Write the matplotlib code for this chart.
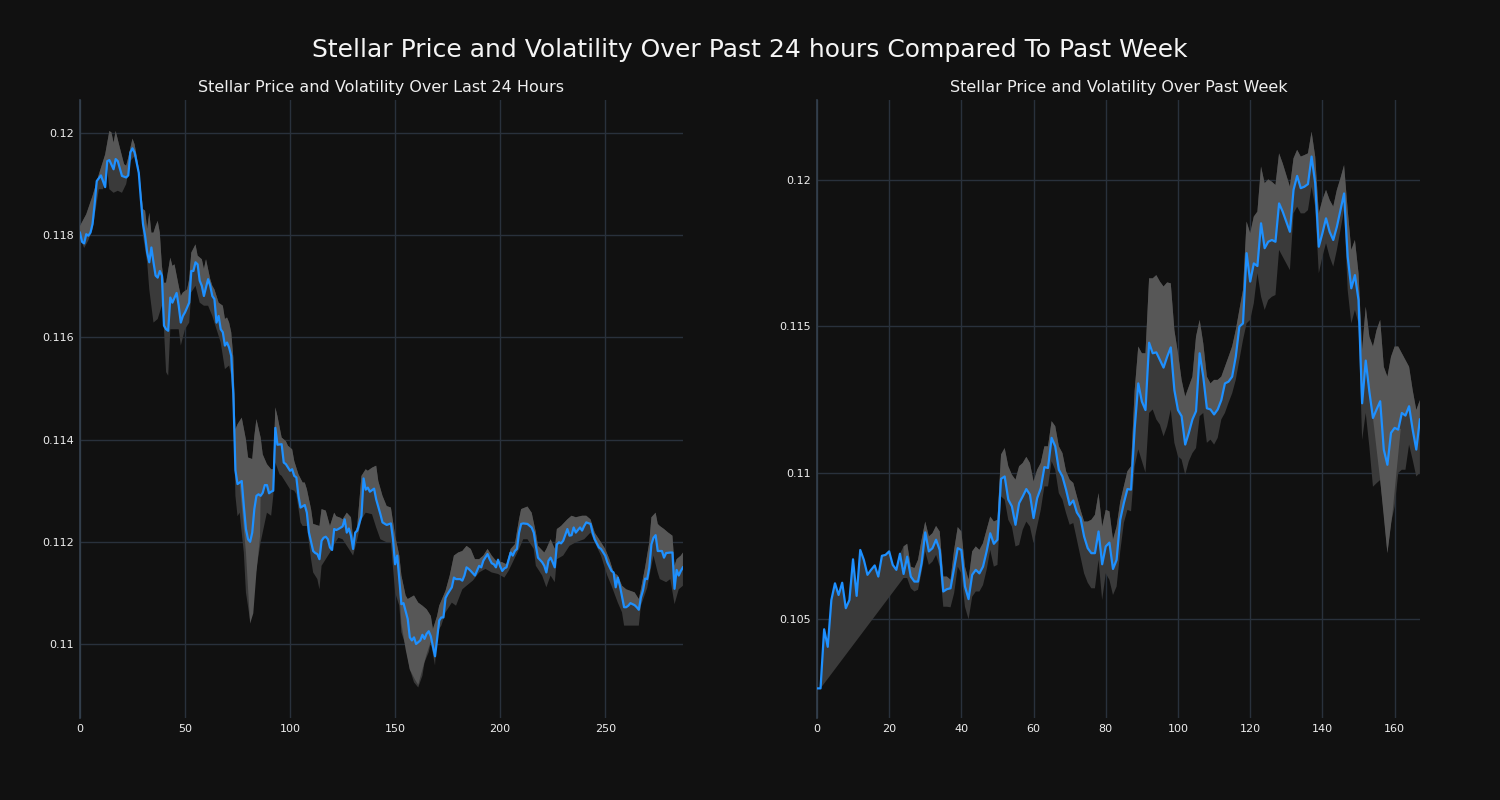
import numpy as np
import matplotlib
matplotlib.use("Agg")
import matplotlib.pyplot as plt
from matplotlib.ticker import FuncFormatter

# ---------------- data: last 24 hours (5-minute steps) ----------------
left_price_x = [0,1,2,3,4,5,6,7,8,10,12,13,14,16,17,18,20,22,23,24,25,26,27,28,29,30,31,32,33,34,35,36,37,38,39,40,41,42,43,44,46,47,48,49,50,52,53,54,55,56,57,58,59,60,61,62,63,64,65,66,67,68,69,70,71,72,73,74,75,76,77,78,79,80,81,82,83,84,85,86,87,88,89,90,91,92,93,94,96,97,98,100,101,102,103,104,105,107,108,109,111,112,113,114,115,116,117,118,119,120,121,122,123,125,126,127,128,129,130,131,132,134,135,136,137,138,140,141,143,144,146,148,149,150,151,152,153,154,156,157,158,159,160,162,163,164,165,166,167,169,170,171,172,173,174,175,177,178,179,181,182,183,184,185,186,188,190,191,192,194,195,196,197,198,199,200,201,202,203,205,206,207,208,209,210,211,213,215,216,217,218,220,221,222,223,224,225,226,227,228,229,230,232,233,234,235,236,238,239,240,241,243,244,245,247,248,250,251,253,254,255,256,257,259,260,261,262,264,265,266,267,268,269,270,271,272,273,274,275,276,277,278,279,281,282,283,284,285,286,287]
left_price_y = [.11805,.11787,.11784,.11802,.11799,.11805,.11822,.11861,.11906,.11917,.11894,.11945,.11947,.11929,.11949,.11945,.11916,.11913,.11917,.11962,.11970,.11962,.11942,.11922,.11870,.11822,.11799,.11766,.11747,.11776,.11747,.11721,.11717,.11730,.11721,.11623,.11616,.11613,.11678,.11668,.11687,.11662,.11629,.11642,.11649,.11668,.11730,.11730,.11747,.11743,.11711,.11701,.11681,.11698,.11714,.11701,.11681,.11675,.11629,.11642,.11616,.11610,.11584,.11590,.11580,.11564,.11490,.11340,.11313,.11316,.11319,.11270,.11225,.11205,.11200,.11218,.11264,.11290,.11293,.11290,.11296,.11311,.11311,.11295,.11298,.11300,.11423,.11390,.11391,.11355,.11352,.11339,.11342,.11329,.11326,.11290,.11267,.11272,.11257,.11218,.11182,.11178,.11176,.11166,.11202,.11208,.11210,.11205,.11189,.11184,.11225,.11223,.11225,.11230,.11244,.11218,.11226,.11212,.11186,.11218,.11222,.11251,.11324,.11302,.11306,.11298,.11304,.11283,.11254,.11238,.11233,.11236,.11205,.11156,.11173,.11127,.11078,.11080,.11049,.11013,.11007,.11013,.11000,.11007,.11018,.11010,.11020,.11025,.11015,.10976,.11010,.11046,.11052,.11052,.11090,.11098,.11111,.11130,.11127,.11127,.11124,.11134,.11150,.11147,.11143,.11134,.11153,.11150,.11163,.11176,.11166,.11158,.11156,.11150,.11165,.11152,.11143,.11148,.11150,.11179,.11173,.11182,.11186,.11218,.11235,.11236,.11235,.11228,.11218,.11192,.11169,.11160,.11153,.11140,.11163,.11169,.11160,.11150,.11195,.11199,.11197,.11202,.11225,.11212,.11213,.11228,.11218,.11228,.11222,.11231,.11238,.11235,.11218,.11205,.11189,.11186,.11173,.11160,.11143,.11140,.11111,.11130,.11114,.11072,.11072,.11075,.11080,.11076,.11072,.11067,.11091,.11105,.11128,.11127,.11150,.11195,.11208,.11213,.11182,.11182,.11182,.11169,.11178,.11179,.11179,.11108,.11145,.11134,.11143,.11150]

left_upper_x = [0,3,6,9,12,14,15,16,17,19,21,22,23,25,26,27,28,30,31,32,33,34,35,36,37,38,39,40,41,43,44,45,47,48,49,51,52,53,55,56,58,59,60,62,63,64,66,68,69,70,71,72,73,74,75,77,79,80,82,83,84,86,87,89,91,92,93,94,96,98,99,101,102,104,106,107,108,110,111,114,115,117,119,121,122,124,125,127,129,130,132,134,136,137,139,141,142,144,146,148,150,152,153,155,156,159,161,163,165,167,168,170,171,174,176,178,180,182,184,186,188,190,192,194,196,198,201,203,205,207,209,210,213,215,217,218,221,222,224,226,227,229,232,234,236,239,241,243,245,248,250,252,254,256,258,260,264,266,267,269,271,272,274,275,276,278,280,282,283,284,286,287]
left_upper_y = [.11818,.11841,.11877,.11919,.11958,.12004,.12001,.11981,.12004,.11971,.11939,.11936,.11952,.11989,.11978,.11955,.11929,.11851,.11848,.11812,.11844,.11805,.11805,.11818,.11828,.11805,.11740,.11707,.11707,.11756,.11740,.11743,.11701,.11681,.11688,.11694,.11714,.11766,.11782,.11760,.11753,.11734,.11753,.11714,.11701,.11694,.11668,.11662,.11636,.11639,.11629,.11610,.11560,.11420,.11430,.11443,.11400,.11365,.11362,.11407,.11440,.11404,.11371,.11352,.11342,.11342,.11463,.11446,.11404,.11397,.11388,.11381,.11358,.11332,.11316,.11316,.11303,.11264,.11235,.11231,.11264,.11261,.11231,.11257,.11250,.11247,.11244,.11257,.11248,.11205,.11231,.11329,.11342,.11339,.11345,.11349,.11319,.11290,.11270,.11267,.11212,.11173,.11134,.11095,.11088,.11095,.11081,.11075,.11068,.11055,.11029,.11055,.11075,.11104,.11134,.11173,.11179,.11182,.11192,.11186,.11166,.11166,.11173,.11186,.11173,.11163,.11160,.11156,.11186,.11195,.11244,.11264,.11269,.11257,.11218,.11192,.11179,.11186,.11205,.11186,.11225,.11231,.11244,.11251,.11248,.11251,.11251,.11244,.11218,.11199,.11186,.11166,.11140,.11134,.11114,.11107,.11101,.11088,.11107,.11150,.11199,.11248,.11257,.11235,.11231,.11225,.11218,.11212,.11153,.11166,.11173,.11179]

left_lower_x = [0,2,4,6,9,11,13,14,16,18,20,22,24,26,28,30,32,33,35,37,39,40,41,42,43,45,47,48,50,52,53,55,57,59,61,63,65,67,69,71,72,73,74,75,76,78,79,81,82,84,86,88,89,91,92,93,95,96,98,100,102,103,105,106,108,110,111,113,114,115,117,119,121,123,125,128,130,132,134,136,139,141,143,146,148,150,152,153,155,157,159,161,163,164,166,167,169,170,172,174,177,179,182,184,187,190,193,196,199,202,204,206,209,211,213,216,217,220,222,224,226,227,230,233,236,240,243,245,248,251,253,256,258,259,262,264,266,267,270,272,273,275,276,279,281,283,285,287]
left_lower_y = [.11795,.11775,.11790,.11812,.11890,.11890,.11929,.11890,.11883,.11887,.11883,.11900,.11945,.11955,.11916,.11799,.11747,.11694,.11629,.11636,.11662,.11616,.11532,.11525,.11616,.11616,.11616,.11584,.11616,.11629,.11688,.11701,.11668,.11662,.11662,.11642,.11616,.11590,.11538,.11545,.11525,.11450,.11290,.11250,.11257,.11179,.11101,.11046,.11088,.11147,.11199,.11238,.11257,.11251,.11290,.11355,.11332,.11329,.11316,.11303,.11300,.11293,.11238,.11231,.11231,.11166,.11140,.11127,.11107,.11153,.11166,.11179,.11195,.11208,.11205,.11186,.11173,.11205,.11244,.11257,.11254,.11228,.11205,.11199,.11199,.11101,.11075,.11023,.10997,.10951,.10925,.10915,.10938,.10964,.10984,.11003,.10958,.11023,.11036,.11062,.11081,.11075,.11107,.11114,.11124,.11140,.11147,.11140,.11137,.11130,.11143,.11160,.11186,.11205,.11205,.11186,.11153,.11134,.11111,.11134,.11121,.11166,.11173,.11192,.11199,.11205,.11218,.11199,.11173,.11134,.11114,.11081,.11062,.11036,.11036,.11036,.11036,.11075,.11110,.11153,.11173,.11140,.11127,.11121,.11127,.11078,.11107,.11114]

# where the lighter band reaches below the price line
left_dip1_x = [76, 79, 81, 82.5, 84, 85.7, 86]
left_dip1_y = [.11316, .11180, .11040, .11060, .11140, .11210, .11290]
left_dip2_x = [151, 153, 155, 157, 159.5, 161, 163, 165, 167, 168]
left_dip2_y = [.11173, .11040, .10990, .10950, .10930, .10920, .10950, .10980, .11005, .11012]

left_yticks = [0.110, 0.112, 0.114, 0.116, 0.118, 0.120]
left_xticks = [0, 50, 100, 150, 200, 250]

# ---------------- data: past week (hourly) ----------------
right_price_x = list(range(168))
right_price_y = [.10263,.10263,.10465,.10405,.10565,.10622,.10582,.10624,.10537,.10565,
                 .10704,.10579,.10736,.10702,.10651,.10668,.10683,.10645,.10716,.10719,
                 .10731,.10685,.10668,.10723,.10654,.10713,.10645,.10628,.10628,.10691,
                 .10796,.10731,.10742,.10771,.10736,.10594,.10602,.10605,.10674,.10742,
                 .10736,.10611,.10568,.10651,.10668,.10656,.10679,.10731,.10793,.10757,
                 .10771,.10979,.10987,.10908,.10885,.10822,.10896,.10919,.10944,.10925,
                 .10845,.10913,.10947,.11019,.11016,.11119,.11090,.11010,.10987,.10942,
                 .10890,.10905,.10864,.10845,.10782,.10742,.10725,.10725,.10799,.10687,
                 .10748,.10761,.10671,.10702,.10839,.10896,.10944,.10942,.11150,.11305,
                 .11243,.11214,.11444,.11408,.11411,.11385,.11359,.11396,.11428,.11282,
                 .11214,.11193,.11096,.11136,.11182,.11210,.11408,.11328,.11220,.11216,
                 .11199,.11216,.11248,.11305,.11311,.11328,.11396,.11499,.11510,.11750,
                 .11653,.11715,.11706,.11852,.11767,.11789,.11795,.11789,.11920,.11892,
                 .11858,.11823,.11966,.12014,.11972,.11977,.11986,.12080,.11989,.11772,
                 .11818,.11869,.11823,.11795,.11840,.11897,.11954,.11738,.11630,.11675,
                 .11590,.11237,.11383,.11277,.11187,.11216,.11244,.11079,.11027,.11136,
                 .11153,.11147,.11204,.11195,.11227,.11147,.11079,.11182]

right_upper_x = list(range(24, 168))
right_upper_y = [.10748,.10757,.10679,.10674,.10702,.10771,.10833,.10782,.10793,.10818,
                 .10799,.10645,.10645,.10634,.10736,.10814,.10799,.10679,.10634,.10731,
                 .10748,.10736,.10759,.10805,.10850,.10833,.10839,.11062,.11084,.11022,
                 .10993,.10976,.11022,.11033,.11054,.11033,.10970,.11010,.11033,.11090,
                 .11090,.11176,.11159,.11090,.11067,.11005,.10976,.10965,.10919,.10873,
                 .10833,.10833,.10839,.10856,.10930,.10816,.10873,.10868,.10771,.10816,
                 .10900,.10953,.11005,.11022,.11280,.11431,.11408,.11408,.11664,.11664,
                 .11675,.11653,.11636,.11650,.11647,.11487,.11408,.11317,.11260,.11294,
                 .11328,.11465,.11522,.11442,.11328,.11305,.11317,.11317,.11328,.11362,
                 .11396,.11431,.11487,.11556,.11624,.11858,.11818,.11875,.11892,.12046,
                 .11989,.12002,.11994,.11983,.12091,.12057,.12017,.11977,.12074,.12103,
                 .12080,.12085,.12091,.12165,.12080,.11886,.11932,.11966,.11932,.11909,
                 .11966,.12006,.12051,.11897,.11761,.11795,.11681,.11419,.11567,.11465,
                 .11431,.11487,.11522,.11362,.11328,.11396,.11431,.11431,.11408,.11385,
                 .11362,.11282,.11214,.11248]

right_lower_x = [0, 1] + list(range(24, 168))
right_lower_y = [.10263, .10263,
                 .10640,.10640,.10605,.10594,.10600,.10660,.10731,.10685,.10696,.10719,
                 .10679,.10542,.10542,.10540,.10588,.10679,.10656,.10542,.10499,.10576,
                 .10594,.10594,.10616,.10668,.10736,.10679,.10685,.10919,.10908,.10839,
                 .10816,.10748,.10753,.10805,.10833,.10816,.10759,.10816,.10873,.10953,
                 .10953,.11039,.11010,.10930,.10908,.10862,.10822,.10828,.10771,.10713,
                 .10656,.10624,.10605,.10605,.10702,.10565,.10656,.10634,.10582,.10611,
                 .10730,.10828,.10873,.10868,.11022,.11080,.11040,.11000,.11204,.11216,
                 .11182,.11164,.11124,.11159,.11216,.11102,.11056,.11045,.10993,.11039,
                 .11067,.11084,.11193,.11204,.11102,.11113,.11096,.11119,.11182,.11204,
                 .11239,.11271,.11317,.11385,.11453,.11510,.11522,.11579,.11682,.11602,
                 .11556,.11590,.11601,.11607,.11761,.11738,.11715,.11692,.11886,.11909,
                 .11886,.11886,.11897,.11977,.11909,.11681,.11738,.11784,.11738,.11704,
                 .11761,.11829,.11897,.11624,.11510,.11556,.11510,.11112,.11204,.11089,
                 .10952,.10964,.10975,.10862,.10726,.10828,.10884,.10999,.11010,.11010,
                 .11096,.11044,.10987,.11000]

right_dip_x = [154, 156, 158, 159.4, 160.3, 161.7]
right_dip_y = [.11187, .10975, .10725, .10861, .10975, .11150]

right_yticks = [0.105, 0.110, 0.115, 0.120]
right_xticks = [0, 20, 40, 60, 80, 100, 120, 140, 160]

left_title = "Stellar Price and Volatility Over Last 24 Hours"
right_title = "Stellar Price and Volatility Over Past Week"
suptitle = "Stellar Price and Volatility Over Past 24 hours Compared To Past Week"

# ---------------- style ----------------
BG = "#111111"
GRID = "#29313c"
SPINE = "#34414f"
LINE = "#1e90ff"
DARK = "#3a3a3a"
LIGHT = "#575757"
TXT = "#eeeeee"


def draw(ax, px, py, ux, uy, lx, ly, dips, title, xlim, ylim, xticks, yticks):
    px, py = np.asarray(px, float), np.asarray(py, float)
    ux, uy = np.asarray(ux, float), np.asarray(uy, float)
    lx, ly = np.asarray(lx, float), np.asarray(ly, float)
    pre = px < ux[0]
    bx = np.r_[px[pre], ux]
    by = np.r_[py[pre], uy]
    ax.fill(np.r_[bx, lx[::-1]], np.r_[by, ly[::-1]], color=DARK, lw=0, zorder=2)
    ax.fill(np.r_[px[~pre], ux[::-1]], np.r_[py[~pre], uy[::-1]], color=LIGHT, lw=0, zorder=3)
    for dx, dy in dips:
        dx, dy = np.asarray(dx, float), np.asarray(dy, float)
        m = (px >= dx[0]) & (px <= dx[-1])
        ax.fill(np.r_[px[m], dx[::-1]], np.r_[py[m], dy[::-1]], color=LIGHT, lw=0, zorder=3)
    ax.plot(px, py, color=LINE, lw=1.6, zorder=4)
    ax.set_facecolor(BG)
    ax.set_xlim(*xlim)
    ax.set_ylim(*ylim)
    ax.set_xticks(xticks)
    ax.set_yticks(yticks)
    ax.yaxis.set_major_formatter(FuncFormatter(lambda v, p: f"{v:g}"))
    ax.grid(True, color=GRID, lw=1.0, zorder=0)
    ax.set_axisbelow(True)
    for s in ["top", "right", "bottom"]:
        ax.spines[s].set_visible(False)
    ax.spines["left"].set_color(SPINE)
    ax.spines["left"].set_linewidth(1.2)
    ax.tick_params(colors=TXT, labelsize=8, length=0, pad=4.5)
    ax.set_title(title, color=TXT, fontsize=11.5, pad=6)


fig = plt.figure(figsize=(15, 8), dpi=100, facecolor=BG)
axl = fig.add_subplot(1, 2, 1)
axr = fig.add_subplot(1, 2, 2)
fig.subplots_adjust(left=0.0533, right=0.9466, bottom=0.1025, top=0.875, wspace=0.2222)

draw(axl, left_price_x, left_price_y, left_upper_x, left_upper_y,
     left_lower_x, left_lower_y, [(left_dip1_x, left_dip1_y), (left_dip2_x, left_dip2_y)],
     left_title, (0, 287), (0.108552, 0.120646), left_xticks, left_yticks)
draw(axr, right_price_x, right_price_y, right_upper_x, right_upper_y,
     right_lower_x, right_lower_y, [(right_dip_x, right_dip_y)],
     right_title, (0, 167), (0.101618, 0.122733), right_xticks, right_yticks)

fig.suptitle(suptitle, color="#f5f5f5", fontsize=18, y=0.9375, va="center")
fig.savefig("out.png", dpi=100, facecolor=BG)
